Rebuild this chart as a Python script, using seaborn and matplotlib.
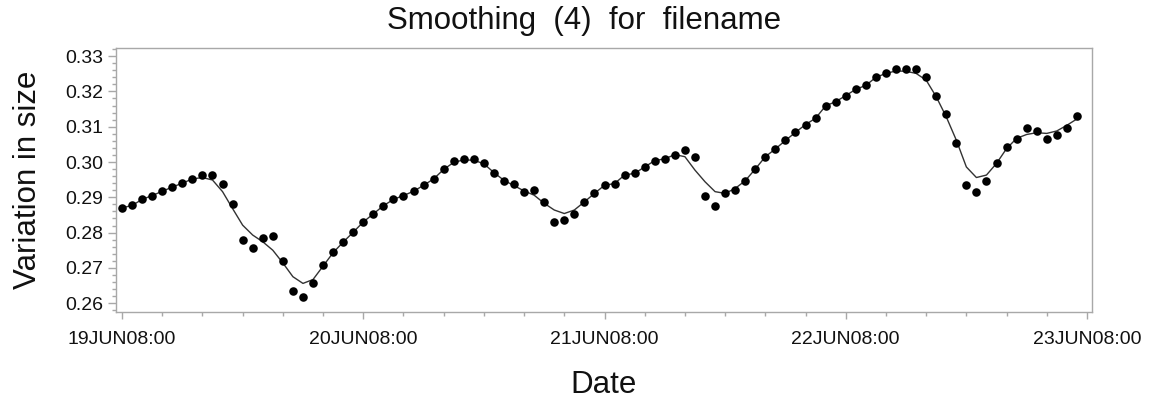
import matplotlib
matplotlib.use("Agg")
import matplotlib.pyplot as plt
import matplotlib.dates as mdates
import matplotlib.ticker as mticker
import numpy as np
import pandas as pd
import seaborn as sns

# ---------------- data ----------------
start_time = "2008-06-19 08:00"
n_hours = 96

observed = [
    0.2870, 0.2877, 0.2894, 0.2905, 0.2917, 0.2929, 0.2940, 0.2952, 0.2963, 0.2963,
    0.2939, 0.2882, 0.2778, 0.2755, 0.2784, 0.2790, 0.2720, 0.2635, 0.2618, 0.2658,
    0.2709, 0.2745, 0.2773, 0.2801, 0.2830,
    0.2853, 0.2876, 0.2894, 0.2905, 0.2917, 0.2934, 0.2952, 0.2981, 0.3004, 0.3009,
    0.3008, 0.2997, 0.2968, 0.2945, 0.2939, 0.2916, 0.2922, 0.2887, 0.2830, 0.2835,
    0.2852, 0.2887, 0.2911,
    0.2934, 0.2939, 0.2963, 0.2968, 0.2986, 0.3004, 0.3009, 0.3021, 0.3034, 0.3015,
    0.2905, 0.2876, 0.2911, 0.2922, 0.2945, 0.2980, 0.3015, 0.3037, 0.3061, 0.3084,
    0.3106, 0.3124, 0.3159, 0.3171,
    0.3188, 0.3206, 0.3217, 0.3240, 0.3251, 0.3263, 0.3263, 0.3263, 0.3240, 0.3188,
    0.3136, 0.3054, 0.2934, 0.2916, 0.2945, 0.2997, 0.3043, 0.3066, 0.3095, 0.3089,
    0.3066, 0.3077, 0.3095, 0.3130,
]

smoothed = [
    0.2870, 0.2877, 0.2894, 0.2905, 0.2917, 0.2929, 0.2940, 0.2952,
    0.2956, 0.2949, 0.2916, 0.2868, 0.2821, 0.2793, 0.2774, 0.2750, 0.2714, 0.2675,
    0.2656, 0.2667, 0.2705, 0.2743, 0.2773, 0.2801, 0.2830,
    0.2853, 0.2876, 0.2894, 0.2905, 0.2917, 0.2934, 0.2952,
    0.2979, 0.2999, 0.3006, 0.3005, 0.2995, 0.2970, 0.2948, 0.2933, 0.2918, 0.2906,
    0.2883, 0.2864, 0.2854, 0.2864, 0.2887, 0.2911,
    0.2934, 0.2939, 0.2963, 0.2968, 0.2986, 0.3004, 0.3009, 0.3021,
    0.3015, 0.2977, 0.2944, 0.2916, 0.2911, 0.2925, 0.2947,
    0.2980, 0.3015, 0.3037, 0.3061, 0.3084, 0.3106, 0.3124, 0.3159, 0.3171, 0.3188,
    0.3206, 0.3217, 0.3240,
    0.3251, 0.3258, 0.3257, 0.3251, 0.3232, 0.3185, 0.3128, 0.3062, 0.2986, 0.2956,
    0.2963, 0.2996, 0.3038, 0.3067, 0.3078, 0.3083, 0.3081, 0.3088, 0.3104, 0.3122,
]

y_ticks = [0.26, 0.27, 0.28, 0.29, 0.30, 0.31, 0.32, 0.33]
title_text = "Smoothing  (4)  for  filename"
x_label = "Date"
y_label = "Variation in size"

times = pd.date_range(start_time, periods=n_hours, freq="h")
df = pd.DataFrame({"time": times, "observed": observed, "smoothed": smoothed})

# ---------------- style ----------------
sns.set_style("white")
plt.rcParams["font.family"] = ["Liberation Sans", "DejaVu Sans"]

fig = plt.figure(figsize=(11.49, 4.04), dpi=100)
ax = fig.add_axes([116 / 1149, 1 - 312 / 404, (1092 - 116) / 1149, (312 - 48) / 404])

sns.lineplot(data=df, x="time", y="smoothed", ax=ax, color="#333333", linewidth=1.0)
sns.scatterplot(data=df, x="time", y="observed", ax=ax, color="black", s=38,
                linewidth=0, edgecolor="black", zorder=3)

t0 = pd.Timestamp(start_time)
ax.set_xlim(t0 - pd.Timedelta(minutes=36), t0 + pd.Timedelta(days=4, minutes=30))
ax.set_ylim(0.2575, 0.3323)

ax.set_yticks(y_ticks)
ax.yaxis.set_major_formatter(mticker.FormatStrFormatter("%.2f"))
ax.yaxis.set_minor_locator(mticker.MultipleLocator(0.002))

ax.xaxis.set_major_locator(mdates.HourLocator(byhour=[8]))
ax.xaxis.set_minor_locator(mdates.HourLocator(byhour=[0, 4, 12, 16, 20]))
ax.xaxis.set_major_formatter(
    mticker.FuncFormatter(lambda v, pos: mdates.num2date(v).strftime("%d%b%H:%M").upper()))

spine_col = "#a8a8a8"
for s in ax.spines.values():
    s.set_visible(True)
    s.set_color(spine_col)
    s.set_linewidth(1.0)

ax.tick_params(axis="both", which="both", direction="out", color=spine_col,
               labelcolor="#111111", width=1.0, bottom=True, left=True,
               top=False, right=False)
ax.tick_params(axis="y", which="major", length=5.5, pad=4, labelsize=14)
ax.tick_params(axis="y", which="minor", length=3)
ax.tick_params(axis="x", which="major", length=5, pad=9, labelsize=14)
ax.tick_params(axis="x", which="minor", length=3)
ax.grid(False)

ax.set_xlabel(x_label, fontsize=22.5, color="#111111")
ax.set_ylabel(y_label, fontsize=22.5, color="#111111")
ax.xaxis.label.set_va("center")
ax.yaxis.label.set_va("center")
ax.xaxis.set_label_coords(0.5, (312 - 385) / 264)
ax.yaxis.set_label_coords((28 - 116) / 976, 0.5)

fig.text(584 / 1149, 1 - 29 / 404, title_text, ha="center", va="baseline",
         fontsize=22.5, color="#111111")

fig.savefig("out.png", dpi=100)
